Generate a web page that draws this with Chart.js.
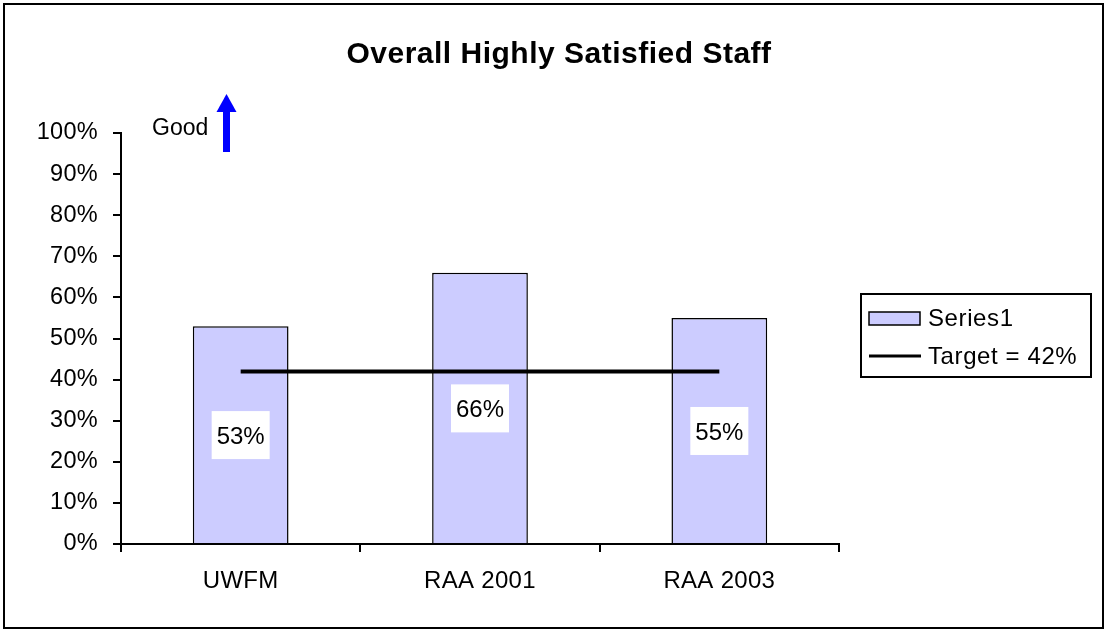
<!DOCTYPE html>
<html>
<head>
<meta charset="utf-8">
<title>Overall Highly Satisfied Staff</title>
<script src="https://cdn.jsdelivr.net/npm/chart.js@4.4.1/dist/chart.umd.min.js"></script>
<style>
  html, body { margin: 0; padding: 0; background: #fff; }
  canvas { display: block; }
</style>
</head>
<body>
<canvas id="satisfied-chart" width="1105" height="630"></canvas>
<script>
const categories = ["UWFM", "RAA 2001", "RAA 2003"];
const satisfied = [53, 66, 55];
const target = [42, 42, 42];
const seriesLabel = "Series1";
const targetLabel = "Target = 42%";
const chartTitle = "Overall Highly Satisfied Staff";

const FONT = "'Liberation Sans', Arial, sans-serif";
const BAR_FILL = "#CCCCFF";

/* ---------- a touch of extra spacing for axis text ---------- */
const textSpacing = {
  id: "textSpacing",
  beforeDraw(chart) {
    chart.ctx.letterSpacing = "0.3px";
  }
};

/* ---------- value labels in the middle of each bar ---------- */
const barLabels = {
  id: "barLabels",
  afterDatasetsDraw(chart) {
    const ctx = chart.ctx;
    const yScale = chart.scales.y;
    const meta = chart.getDatasetMeta(0);
    ctx.save();
    ctx.letterSpacing = "0px";
    ctx.font = "24px " + FONT;
    ctx.textAlign = "center";
    ctx.textBaseline = "middle";
    meta.data.forEach((bar, i) => {
      const value = chart.data.datasets[0].data[i];
      const y = yScale.getPixelForValue(value / 2);
      ctx.fillStyle = "#fff";
      ctx.fillRect(bar.x - 29, y - 24, 58, 48);
      ctx.fillStyle = "#000";
      ctx.fillText(value + "%", bar.x, y + 2);
    });
    ctx.restore();
  }
};

/* ---------- title, "Good" arrow, legend box, frame ---------- */
const decorations = {
  id: "decorations",
  afterDraw(chart) {
    const ctx = chart.ctx;
    ctx.save();

    // outer frame
    ctx.strokeStyle = "#000";
    ctx.lineWidth = 2;
    ctx.strokeRect(4, 4, 1099, 624);

    // title
    ctx.fillStyle = "#000";
    ctx.letterSpacing = "0.5px";
    ctx.font = "bold 30px " + FONT;
    ctx.textAlign = "center";
    ctx.textBaseline = "middle";
    ctx.fillText(chartTitle, 559, 55);

    // "Good" with arrow pointing up
    ctx.letterSpacing = "0px";
    ctx.font = "23px " + FONT;
    ctx.textAlign = "left";
    ctx.fillText("Good", 152, 129);
    ctx.fillStyle = "#0000FF";
    ctx.fillRect(223, 110, 7, 42);
    ctx.beginPath();
    ctx.moveTo(226.5, 94);
    ctx.lineTo(236.5, 112);
    ctx.lineTo(216.5, 112);
    ctx.closePath();
    ctx.fill();

    // legend
    const ds = chart.data.datasets;
    ctx.fillStyle = "#fff";
    ctx.fillRect(861, 294, 230, 83);
    ctx.strokeStyle = "#000";
    ctx.lineWidth = 2;
    ctx.strokeRect(861, 294, 230, 83);

    ctx.fillStyle = ds[0].backgroundColor;
    ctx.fillRect(869, 312, 51, 13);
    ctx.lineWidth = 1.5;
    ctx.strokeRect(869, 312, 51, 13);

    ctx.lineWidth = 3;
    ctx.beginPath();
    ctx.moveTo(869, 356);
    ctx.lineTo(921, 356);
    ctx.stroke();

    ctx.fillStyle = "#000";
    ctx.letterSpacing = "0.6px";
    ctx.font = "24px " + FONT;
    ctx.textBaseline = "middle";
    ctx.fillText(ds[0].label, 928, 319);
    ctx.fillText(ds[1].label, 928, 357);

    ctx.restore();
  }
};

const satisfiedChart = new Chart(document.querySelector("#satisfied-chart"), {
  type: "bar",
  data: {
    labels: categories,
    datasets: [
      {
        label: seriesLabel,
        data: satisfied,
        backgroundColor: BAR_FILL,
        borderColor: "#000",
        borderWidth: 1.5,
        barPercentage: 0.4,
        categoryPercentage: 1.0,
        order: 2,
      },
      {
        type: "line",
        label: targetLabel,
        data: target,
        borderColor: "#000",
        borderWidth: 4,
        pointRadius: 0,
        fill: false,
        order: 1,
      },
    ],
  },
  options: {
    responsive: false,
    animation: false,
    layout: {
      padding: { top: 133, right: 266, bottom: 0, left: 0 },
    },
    plugins: {
      legend: { display: false },
      title: { display: false },
      tooltip: { enabled: false },
    },
    scales: {
      x: {
        grid: {
          offset: true,
          drawOnChartArea: false,
          tickLength: 8,
          color: "#000",
          lineWidth: 2,
        },
        border: { color: "#000", width: 2 },
        ticks: {
          color: "#000",
          font: { family: FONT, size: 24 },
          padding: 15,
        },
        afterFit(scale) {
          scale.height = 86;
        },
      },
      y: {
        min: 0,
        max: 100,
        grid: {
          drawOnChartArea: false,
          tickLength: 8,
          color: "#000",
          lineWidth: 2,
        },
        border: { color: "#000", width: 2 },
        ticks: {
          stepSize: 10,
          color: "#000",
          font: { family: FONT, size: 23.5 },
          padding: 15,
          callback: (v) => v + "%",
        },
        afterFit(scale) {
          scale.width = 121;
        },
      },
    },
  },
  plugins: [textSpacing, barLabels, decorations],
});
</script>
</body>
</html>
